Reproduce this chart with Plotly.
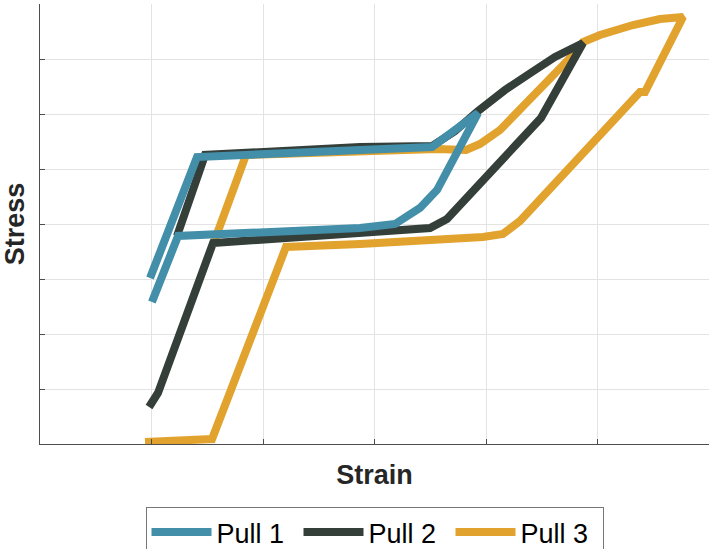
import plotly.graph_objects as go

# Data (strain, stress), in axis units
pull1_strain = [1.004, 1.238, 2.870, 3.184, 3.408, 3.561, 3.928, 3.516, 2.870, 1.408, 0.987]
pull1_stress = [2.582, 3.782, 3.927, 4.000, 4.291, 4.618, 6.018, 5.400, 5.345, 5.218, 3.018]

pull2_strain = [0.978, 1.058, 1.552, 2.870, 3.498, 3.650, 4.466, 4.493, 4.870, 4.619, 4.413,
                4.170, 3.928, 3.722, 3.516, 2.870, 1.480, 1.229]
pull2_stress = [0.673, 0.927, 3.655, 3.836, 3.927, 4.091, 5.855, 5.927, 7.291, 7.036, 6.764,
                6.436, 6.055, 5.691, 5.418, 5.400, 5.255, 3.782]

pull3_strain = [0.942, 1.543, 2.206, 2.870, 3.973, 4.152, 4.305, 5.381, 5.426, 5.767, 5.561,
                5.318, 5.022, 4.870, 4.771, 4.126, 3.946, 3.821, 3.561, 1.848, 1.561]
pull3_stress = [0.036, 0.091, 3.582, 3.636, 3.764, 3.818, 4.055, 6.400, 6.400, 7.764, 7.727,
                7.618, 7.436, 7.309, 7.055, 5.709, 5.455, 5.345, 5.364, 5.255, 3.673]

names = ["Pull 1", "Pull 2", "Pull 3"]
colors = ["#438EA8", "#353F3A", "#E2A32E"]

x_ticks = [0, 1, 2, 3, 4, 5, 6]
y_ticks = [0, 1, 2, 3, 4, 5, 6, 7, 8]

series = [(pull1_strain, pull1_stress), (pull2_strain, pull2_stress), (pull3_strain, pull3_stress)]

fig = go.Figure()
# draw Pull 3 first so Pull 1 ends on top
for i in [2, 1, 0]:
    xs, ys = series[i]
    fig.add_trace(go.Scatter(
        x=xs, y=ys, mode="lines", name=names[i],
        line=dict(color=colors[i], width=8),
    ))

font_family = "Arial, Liberation Sans, sans-serif"
fig.update_layout(
    width=711, height=549,
    margin=dict(l=40, r=2, t=4, b=105, autoexpand=False),
    paper_bgcolor="white", plot_bgcolor="white",
    font=dict(family=font_family, color="#262626"),
    showlegend=True,
    legend=dict(
        orientation="h", x=0.5, xanchor="center", y=-0.143, yanchor="top",
        traceorder="reversed",
        font=dict(size=27, color="#000000", family=font_family),
        bordercolor="#777777", borderwidth=1, bgcolor="white",
        itemwidth=60, entrywidth=77,
    ),
)
fig.update_xaxes(
    range=[0, 6], tickvals=x_ticks, showticklabels=False,
    showgrid=True, gridcolor="#E3E3E3", gridwidth=1,
    showline=True, linecolor="#4D4D4D", linewidth=1,
    ticks="inside", ticklen=5, tickcolor="#4D4D4D",
    zeroline=False,
    title=dict(text="<b>Strain</b>", font=dict(size=27, color="#262626"), standoff=21),
)
fig.update_yaxes(
    range=[0, 8], tickvals=y_ticks, showticklabels=False,
    showgrid=True, gridcolor="#E3E3E3", gridwidth=1,
    showline=True, linecolor="#4D4D4D", linewidth=1,
    ticks="inside", ticklen=5, tickcolor="#4D4D4D",
    zeroline=False,
    title=dict(text="<b>Stress</b>", font=dict(size=27, color="#262626"), standoff=8),
)

fig.write_html("out.html")
